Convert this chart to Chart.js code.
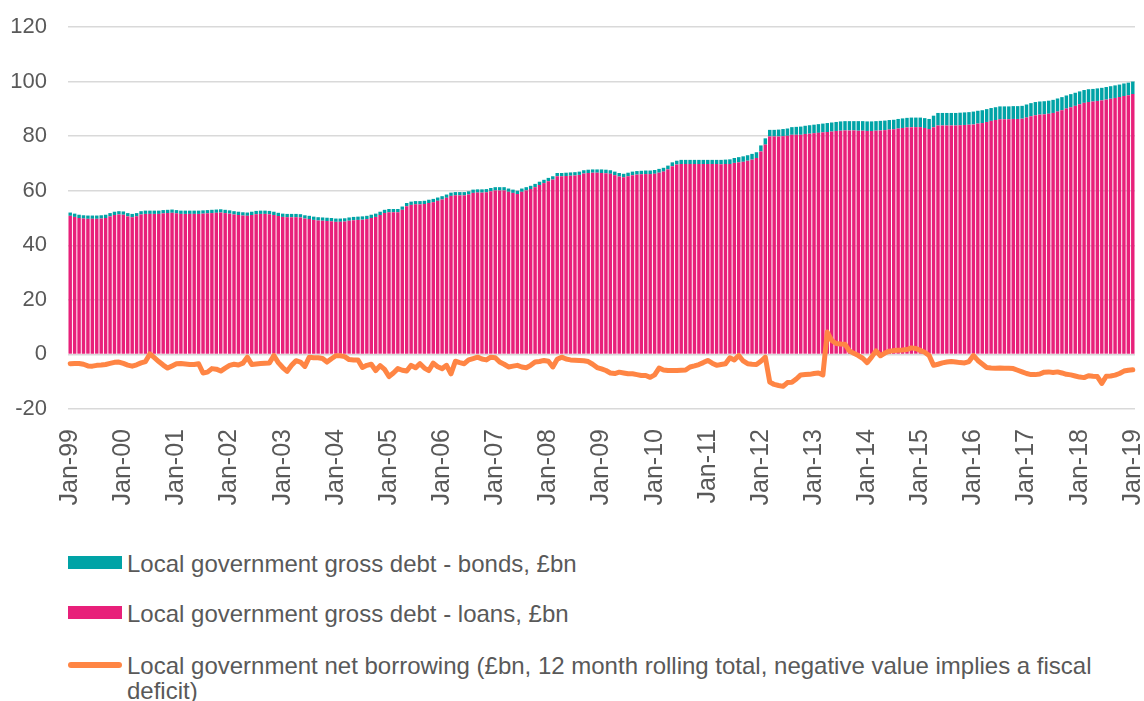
<!DOCTYPE html>
<html>
<head>
<meta charset="utf-8">
<script src="https://cdn.jsdelivr.net/npm/chart.js@4.4.1/dist/chart.umd.min.js"></script>
<style>
  html, body { margin: 0; padding: 0; background: #ffffff; }
  body { width: 1144px; height: 701px; position: relative; overflow: hidden; font-family: "Liberation Sans", Arial, sans-serif; color: #595959; }
  #c { position: absolute; left: 0; top: 0; }
  .sw { position: absolute; left: 68px; width: 54px; }
  .lt { position: absolute; left: 127px; font-size: 24px; line-height: 25px; white-space: nowrap; }
  .lt.wrap { white-space: normal; width: 1000px; }
</style>
</head>
<body>
<canvas id="c" width="1144" height="540"></canvas>
<div class="sw" style="top:556px;height:13px;background:#00A3A6;"></div>
<div class="lt" style="top:551px;">Local government gross debt - bonds, £bn</div>
<div class="sw" style="top:606px;height:13px;background:#E8207A;"></div>
<div class="lt" style="top:601px;">Local government gross debt - loans, £bn</div>
<div class="sw" style="top:662px;height:6px;border-radius:3px;background:#FF8544;"></div>
<div class="lt wrap" style="top:653px;">Local government net borrowing (£bn, 12 month rolling total, negative value implies a fiscal deficit)</div>
<script>
// ---- data (monthly, Jan-99 .. Jan-19) ----
const monthNames = ['Jan','Feb','Mar','Apr','May','Jun','Jul','Aug','Sep','Oct','Nov','Dec'];
const yearCodes = ['99','00','01','02','03','04','05','06','07','08','09','10','11','12','13','14','15','16','17','18','19'];

const loans = [
  50.8, 50.4, 50.0, 49.8, 49.7, 49.7, 49.7, 49.8, 50.0, 50.6, 51.1, 51.3,
  51.2, 50.6, 50.3, 50.6, 51.3, 51.5, 51.5, 51.5, 51.5, 51.7, 51.8, 51.9,
  51.7, 51.5, 51.5, 51.5, 51.5, 51.5, 51.6, 51.7, 51.8, 51.9, 52.0, 51.8,
  51.6, 51.3, 51.1, 50.9, 50.8, 51.1, 51.4, 51.5, 51.5, 51.4, 51.1, 50.7,
  50.4, 50.3, 50.3, 50.3, 50.2, 49.8, 49.6, 49.3, 49.1, 49.0, 48.9, 48.8,
  48.6, 48.6, 48.7, 49.0, 49.2, 49.3, 49.4, 49.6, 50.0, 50.4, 51.1, 51.8,
  52.1, 52.1, 52.1, 53.0, 54.3, 54.8, 55.0, 55.0, 55.1, 55.5, 55.8, 56.3,
  56.8, 57.4, 58.1, 58.3, 58.3, 58.3, 58.6, 59.2, 59.3, 59.3, 59.4, 59.8,
  60.1, 60.1, 60.1, 59.6, 59.2, 58.8, 59.6, 60.1, 60.6, 61.3, 62.1, 62.8,
  63.5, 64.1, 65.3, 65.3, 65.4, 65.5, 65.6, 65.8, 66.3, 66.5, 66.6, 66.6,
  66.5, 66.4, 66.2, 65.7, 65.2, 64.9, 65.3, 65.7, 65.9, 66.0, 66.1, 66.1,
  66.2, 66.6, 67.0, 67.8, 69.0, 69.6, 69.8, 69.8, 69.8, 69.8, 69.8, 69.8,
  69.8, 69.8, 69.8, 69.7, 69.8, 69.8, 70.2, 70.4, 70.6, 71.0, 71.4, 72.0,
  74.4, 76.9, 79.9, 79.9, 79.9, 80.0, 80.1, 80.5, 80.5, 80.5, 80.8, 80.9,
  81.1, 81.2, 81.4, 81.5, 81.7, 81.9, 82.0, 82.1, 82.1, 82.1, 82.0, 82.0,
  81.9, 81.9, 82.0, 82.1, 82.2, 82.4, 82.5, 82.8, 83.0, 83.2, 83.3, 83.3,
  83.3, 83.0, 82.6, 83.3, 83.9, 83.9, 83.9, 83.9, 83.9, 84.0, 84.1, 84.2,
  84.3, 84.6, 84.8, 85.2, 85.6, 85.9, 86.2, 86.2, 86.2, 86.3, 86.3, 86.4,
  86.8, 87.3, 87.7, 87.9, 88.0, 88.2, 88.5, 89.0, 89.5, 90.1, 90.6, 91.1,
  91.7, 92.2, 92.5, 92.7, 92.9, 93.1, 93.4, 93.7, 94.0, 94.3, 94.7, 95.0,
  95.4
];

const bonds = [
  1.2, 1.2, 1.2, 1.2, 1.2, 1.2, 1.2, 1.2, 1.2, 1.2, 1.2, 1.2,
  1.2, 1.2, 1.2, 1.2, 1.2, 1.2, 1.2, 1.2, 1.2, 1.2, 1.2, 1.2,
  1.2, 1.2, 1.2, 1.2, 1.2, 1.2, 1.2, 1.2, 1.2, 1.2, 1.2, 1.2,
  1.2, 1.2, 1.2, 1.2, 1.2, 1.2, 1.2, 1.2, 1.2, 1.2, 1.2, 1.2,
  1.2, 1.2, 1.2, 1.2, 1.2, 1.2, 1.2, 1.2, 1.2, 1.2, 1.2, 1.2,
  1.2, 1.2, 1.2, 1.2, 1.2, 1.2, 1.2, 1.2, 1.2, 1.2, 1.2, 1.2,
  1.2, 1.2, 1.2, 1.2, 1.2, 1.2, 1.2, 1.2, 1.2, 1.2, 1.2, 1.2,
  1.2, 1.2, 1.2, 1.2, 1.2, 1.2, 1.2, 1.2, 1.2, 1.2, 1.2, 1.2,
  1.2, 1.2, 1.2, 1.2, 1.2, 1.2, 1.2, 1.2, 1.2, 1.2, 1.2, 1.2,
  1.2, 1.2, 1.2, 1.2, 1.2, 1.2, 1.2, 1.2, 1.2, 1.2, 1.2, 1.2,
  1.3, 1.3, 1.3, 1.3, 1.3, 1.3, 1.3, 1.3, 1.3, 1.3, 1.3, 1.3,
  1.4, 1.4, 1.4, 1.4, 1.4, 1.4, 1.5, 1.5, 1.5, 1.5, 1.5, 1.5,
  1.5, 1.5, 1.5, 1.6, 1.6, 1.7, 1.8, 1.9, 2.0, 2.0, 2.1, 2.1,
  2.2, 2.3, 2.4, 2.4, 2.5, 2.6, 2.7, 2.8, 2.9, 3.0, 3.0, 3.1,
  3.1, 3.2, 3.2, 3.3, 3.3, 3.3, 3.4, 3.4, 3.4, 3.4, 3.5, 3.5,
  3.5, 3.5, 3.5, 3.5, 3.5, 3.5, 3.5, 3.5, 3.5, 3.5, 3.5, 3.5,
  3.5, 3.6, 3.7, 4.2, 4.6, 4.6, 4.6, 4.6, 4.6, 4.6, 4.6, 4.6,
  4.7, 4.7, 4.7, 4.7, 4.7, 4.7, 4.7, 4.7, 4.7, 4.7, 4.7, 4.7,
  4.8, 4.8, 4.8, 4.8, 4.8, 4.8, 4.8, 4.8, 4.8, 4.8, 4.8, 4.8,
  4.7, 4.7, 4.7, 4.6, 4.6, 4.6, 4.6, 4.6, 4.6, 4.6, 4.6, 4.6,
  4.6
];

const netBorrowing = [
  -3.4, -3.3, -3.3, -3.6, -4.2, -4.3, -4.0, -3.9, -3.7, -3.3, -2.9, -2.8,
  -3.3, -3.9, -4.3, -3.8, -3.1, -2.6, 0.2, -1.2, -2.6, -3.9, -5.0, -4.2,
  -3.4, -3.3, -3.5, -3.7, -3.7, -3.4, -6.8, -6.5, -5.2, -5.4, -6.1, -5.0,
  -4.0, -3.6, -3.9, -3.2, -1.0, -3.7, -3.5, -3.3, -3.2, -3.1, -0.4, -3.0,
  -4.8, -6.2, -4.0, -2.3, -2.8, -4.4, -1.0, -1.2, -1.2, -1.5, -2.8, -1.6,
  -0.5, -0.5, -0.8, -1.9, -2.0, -2.0, -4.8, -4.0, -3.6, -5.9, -4.1, -5.5,
  -8.1, -6.8, -5.2, -5.8, -6.1, -4.0, -4.9, -3.4, -5.0, -5.9, -3.2, -4.5,
  -5.2, -4.0, -7.1, -2.5, -3.0, -3.4, -2.0, -1.5, -1.0, -1.7, -2.0, -1.0,
  -1.2, -2.8, -3.6, -4.6, -4.3, -4.0, -4.6, -4.9, -4.0, -2.8, -2.6, -2.2,
  -2.5, -4.6, -1.8, -1.0, -1.7, -2.0, -2.1, -2.2, -2.3, -2.6, -3.6, -4.8,
  -5.3, -5.9, -6.8, -7.0, -6.5, -6.8, -7.1, -7.1, -7.4, -7.7, -7.7, -8.4,
  -7.5, -5.0, -5.7, -5.9, -5.9, -5.9, -5.8, -5.7, -4.6, -4.2, -3.7, -3.0,
  -2.2, -3.2, -4.0, -3.7, -3.4, -1.2, -2.0, -0.4, -2.4, -3.4, -3.6, -3.7,
  -2.5, -1.0, -10.1, -11.0, -11.4, -11.7, -10.3, -10.2, -9.0, -7.5, -7.4, -7.3,
  -7.0, -6.8, -7.5, 8.2, 5.1, 4.0, 3.8, 3.7, 1.3, 0.4, -0.4, -1.4,
  -3.0, -1.0, 1.3, -0.5, 0.5, 1.2, 1.4, 1.5, 1.6, 1.8, 2.4, 2.2,
  1.5, 0.8, -0.4, -4.0, -3.6, -3.1, -2.8, -2.6, -2.8, -3.0, -3.1, -2.6,
  -0.4, -2.2, -3.5, -4.8, -5.0, -5.1, -5.0, -5.1, -5.1, -5.2, -5.8, -6.4,
  -7.0, -7.4, -7.4, -7.2, -6.5, -6.4, -6.6, -6.4, -6.8, -7.3, -7.5, -7.9,
  -8.3, -8.5, -7.8, -8.0, -8.1, -10.6, -8.0, -7.9, -7.6, -7.0, -6.1, -5.8,
  -5.6
];

const yTicks = [-20, 0, 20, 40, 60, 80, 100, 120];

// category labels built from month/year names
const categories = [];
for (let y = 0; y < yearCodes.length; y++) {
  for (let m = 0; m < 12; m++) {
    if (y === yearCodes.length - 1 && m > 0) break;
    categories.push(monthNames[m] + '-' + yearCodes[y]);
  }
}

const TEXT = '#595959';
const GRID = '#D9D9D9';
const FONT = "'Liberation Sans', Arial, sans-serif";

new Chart(document.getElementById('c'), {
  data: {
    labels: categories,
    datasets: [
      {
        type: 'bar', label: 'Local government gross debt - loans, £bn',
        data: loans, backgroundColor: '#E8207A', stack: 'debt', order: 1,
        barPercentage: 0.78, categoryPercentage: 1.0, borderWidth: 0
      },
      {
        type: 'bar', label: 'Local government gross debt - bonds, £bn',
        data: bonds, backgroundColor: '#00A3A6', stack: 'debt', order: 1,
        barPercentage: 0.78, categoryPercentage: 1.0, borderWidth: 0
      },
      {
        type: 'line', label: 'Local government net borrowing (£bn, 12 month rolling total, negative value implies a fiscal deficit)',
        data: netBorrowing, borderColor: '#FF8544', backgroundColor: '#FF8544',
        borderWidth: 5, pointRadius: 0, tension: 0, stack: 'nb', order: 0,
        borderJoinStyle: 'round', borderCapStyle: 'round', fill: false
      }
    ]
  },
  options: {
    responsive: false,
    devicePixelRatio: 1,
    animation: false,
    layout: { padding: { left: 0, right: 9, top: 27, bottom: 0 } },
    plugins: { legend: { display: false }, tooltip: { enabled: false } },
    scales: {
      x: {
        stacked: true,
        offset: true,
        grid: { display: false, drawTicks: false },
        border: { display: false },
        ticks: {
          autoSkip: false, minRotation: 90, maxRotation: 90, padding: 20,
          color: TEXT, font: { family: FONT, size: 25 },
          callback: function (v, i) { return (i % 12 === 0) ? categories[i] : ''; }
        },
        afterFit: function (s) { s.height = 131; s.paddingLeft = 0; s.paddingRight = 0; }
      },
      y: {
        stacked: true,
        min: -20, max: 120,
        afterBuildTicks: function (s) { s.ticks = yTicks.map(v => ({ value: v })); },
        grid: { color: GRID, lineWidth: 1.5, drawTicks: false },
        border: { display: false },
        ticks: { color: TEXT, padding: 21, font: { family: FONT, size: 22 } },
        afterFit: function (s) { s.width = 68; s.paddingTop = 0; s.paddingBottom = 0; }
      }
    }
  }
});
</script>
</body>
</html>
